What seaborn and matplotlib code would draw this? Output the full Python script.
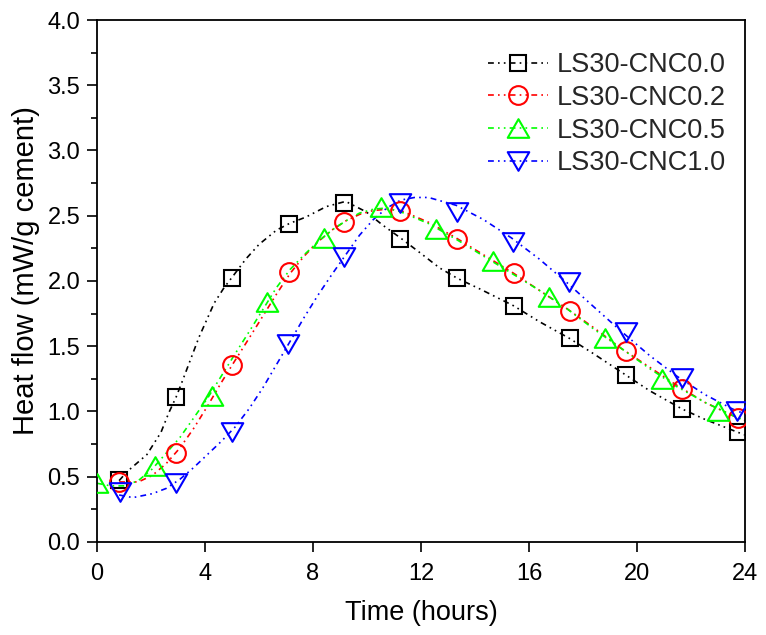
import numpy as np
import pandas as pd
import matplotlib
matplotlib.use("Agg")
import matplotlib.pyplot as plt
from matplotlib.path import Path
from matplotlib.lines import Line2D
from matplotlib.ticker import MultipleLocator
import seaborn as sns

# ---------------- data ----------------
series = ["LS30-CNC0.0", "LS30-CNC0.2", "LS30-CNC0.5", "LS30-CNC1.0"]

# marker points
m0_x = [0.82, 2.93, 5.01, 7.12, 9.16, 11.24, 13.35, 15.43, 17.50, 19.58, 21.66, 23.74]
m0_y = [0.475, 1.11, 2.02, 2.44, 2.60, 2.32, 2.02, 1.81, 1.56, 1.28, 1.02, 0.84]
m1_x = [0.82, 2.93, 5.01, 7.12, 9.16, 11.24, 13.35, 15.43, 17.50, 19.58, 21.66, 23.74]
m1_y = [0.46, 0.68, 1.36, 2.07, 2.45, 2.54, 2.32, 2.06, 1.77, 1.46, 1.17, 0.95]
m2_x = [0.00, 2.15, 4.27, 6.31, 8.42, 10.53, 12.57, 14.65, 16.73, 18.81, 20.92, 23.00]
m2_y = [0.45, 0.58, 1.12, 1.84, 2.33, 2.57, 2.40, 2.15, 1.88, 1.56, 1.25, 1.00]
m3_x = [0.85, 2.93, 5.01, 7.08, 9.16, 11.24, 13.32, 15.39, 17.47, 19.58, 21.66, 23.70]
m3_y = [0.38, 0.45, 0.84, 1.52, 2.18, 2.60, 2.53, 2.30, 1.99, 1.61, 1.26, 1.00]

# fitted curves as drawn in the reference
c0_x = [0.82, 1.12, 1.85, 2.37, 2.66, 2.93, 3.12, 3.78, 4.34, 4.71, 5.01, 5.52, 6.00, 6.65, 7.12,
        7.74, 8.49, 9.21, 9.97, 10.57, 11.24, 11.94, 12.69, 13.35, 14.17, 15.43, 16.37, 17.50,
        18.41, 19.58, 20.46, 21.66, 22.51, 23.74, 24.0]
c0_y = [0.47, 0.54, 0.67, 0.84, 0.99, 1.11, 1.21, 1.57, 1.83, 1.95, 2.03, 2.17, 2.28, 2.39, 2.44,
        2.49, 2.57, 2.61, 2.53, 2.43, 2.33, 2.22, 2.10, 2.02, 1.94, 1.81, 1.69, 1.56,
        1.44, 1.28, 1.16, 1.02, 0.94, 0.84, 0.82]
c1_x = [0.82, 1.53, 2.05, 2.56, 3.07, 3.58, 4.09, 4.60, 5.11, 5.63, 6.14, 6.65, 7.16, 7.67, 8.18, 8.70,
        9.21, 9.72, 10.23, 10.74, 11.25, 12.28, 13.30, 14.32, 15.35, 16.37, 17.39, 18.41, 19.44, 20.46,
        21.48, 22.51, 23.53, 24.0]
c1_y = [0.46, 0.46, 0.51, 0.60, 0.72, 0.87, 1.04, 1.22, 1.39, 1.56, 1.73, 1.90, 2.06, 2.19, 2.30, 2.39,
        2.46, 2.51, 2.54, 2.55, 2.54, 2.45, 2.33, 2.20, 2.07, 1.93, 1.79, 1.64, 1.48, 1.34,
        1.20, 1.07, 0.97, 0.93]
c2_x = [0.0, 0.51, 1.02, 1.53, 2.05, 2.56, 3.07, 3.58, 4.09, 4.60, 5.11, 5.63, 6.14, 6.65, 7.16, 7.67,
        8.18, 8.70, 9.21, 9.72, 10.23, 10.74, 11.25, 12.28, 13.30, 14.32, 15.35, 16.37, 17.39, 18.41,
        19.44, 20.46, 21.48, 22.51, 23.53, 24.0]
c2_y = [0.45, 0.43, 0.43, 0.47, 0.56, 0.68, 0.80, 0.95, 1.10, 1.27, 1.44, 1.61, 1.78, 1.95, 2.09, 2.20,
        2.30, 2.39, 2.46, 2.52, 2.55, 2.56, 2.53, 2.44, 2.32, 2.19, 2.06, 1.93, 1.79, 1.63,
        1.48, 1.33, 1.19, 1.07, 0.97, 0.93]
c3_x = [0.82, 1.33, 2.05, 2.56, 3.07, 3.58, 4.09, 4.60, 5.11, 5.63, 6.14, 6.65, 7.16, 7.67, 8.18, 8.70,
        9.21, 9.72, 10.23, 10.74, 11.25, 11.76, 12.28, 13.30, 14.32, 15.35, 16.37, 17.39, 18.41, 19.44,
        20.46, 21.48, 22.51, 23.53, 24.0]
c3_y = [0.36, 0.34, 0.37, 0.41, 0.48, 0.57, 0.67, 0.77, 0.88, 1.02, 1.18, 1.36, 1.54, 1.72, 1.89, 2.05,
        2.20, 2.35, 2.47, 2.56, 2.62, 2.64, 2.64, 2.58, 2.47, 2.33, 2.17, 1.99, 1.80, 1.61,
        1.43, 1.27, 1.13, 1.02, 0.98]

x_ticks = [0, 4, 8, 12, 16, 20, 24]
y_ticks = [0.0, 0.5, 1.0, 1.5, 2.0, 2.5, 3.0, 3.5, 4.0]

# ---------------- styling ----------------
sns.set_theme(style="ticks")
plt.rcParams["font.family"] = ["Liberation Sans", "DejaVu Sans"]

colors = ["#000000", "#FF0000", "#00FF00", "#0000FF"]
tri_up = Path([(-1, -0.866), (1, -0.866), (0, 0.866), (-1, -0.866)],
              [Path.MOVETO, Path.LINETO, Path.LINETO, Path.CLOSEPOLY])
tri_dn = Path([(-1, 0.866), (1, 0.866), (0, -0.866), (-1, 0.866)],
              [Path.MOVETO, Path.LINETO, Path.LINETO, Path.CLOSEPOLY])
markers = ["s", "o", tri_up, tri_dn]
msizes = [11.0, 13.5, 15.5, 15.5]
dash = (0, (3.5, 2.5, 1, 2.5, 1, 2.5))
lw = 1.2
mew = 1.5

curves = [(c0_x, c0_y), (c1_x, c1_y), (c2_x, c2_y), (c3_x, c3_y)]
marks = [(m0_x, m0_y), (m1_x, m1_y), (m2_x, m2_y), (m3_x, m3_y)]

fig = plt.figure(figsize=(7.66, 6.35), dpi=100)
ax = fig.add_axes([0.1266, 0.1465, 0.846, 0.822])

for i, name in enumerate(series):
    cdf = pd.DataFrame({"t": curves[i][0], "q": curves[i][1]})
    sns.lineplot(data=cdf, x="t", y="q", ax=ax, color=colors[i], linewidth=lw,
                 linestyle=dash, errorbar=None, zorder=2)
    mdf = pd.DataFrame({"t": marks[i][0], "q": marks[i][1]})
    sns.lineplot(data=mdf, x="t", y="q", ax=ax, color=colors[i], linestyle="",
                 marker=markers[i], markersize=msizes[i], markerfacecolor="none",
                 markeredgecolor=colors[i], markeredgewidth=mew, errorbar=None, zorder=3)

ax.set_xlim(0, 24)
ax.set_ylim(0, 4.0)
ax.set_xticks(x_ticks)
ax.set_xticklabels([str(v) for v in x_ticks])
ax.set_yticks(y_ticks)
ax.set_yticklabels([f"{v:.1f}" for v in y_ticks])
ax.yaxis.set_minor_locator(MultipleLocator(0.25))
ax.tick_params(axis="x", which="major", direction="out", length=7, width=1.2,
               labelsize=17, color="black", labelcolor="black", pad=8)
ax.tick_params(axis="y", which="major", direction="out", length=7, width=1.2,
               labelsize=17, color="black", labelcolor="black", pad=5)
ax.tick_params(axis="y", which="minor", direction="out", length=4, width=1.2, color="black")
for s in ax.spines.values():
    s.set_visible(True)
    s.set_linewidth(1.3)
    s.set_color("black")

ax.set_xlabel("Time (hours)", fontsize=19.5, color="black", labelpad=11)
ax.set_ylabel("Heat flow (mW/g cement)", fontsize=21, color="black")
ax.yaxis.set_label_coords(-0.088, 0.52)

handles = [Line2D([0], [0], color=colors[i], linewidth=lw, linestyle=dash,
                  marker=markers[i], markersize=msizes[i], markerfacecolor="none",
                  markeredgecolor=colors[i], markeredgewidth=mew) for i in range(4)]
ax.legend(handles, series, loc="upper right", bbox_to_anchor=(1.0, 0.975),
          frameon=False, fontsize=19.5, handlelength=2.2, handletextpad=0.33,
          labelspacing=0.25, borderaxespad=0.3)

fig.savefig("out.png", dpi=100)
